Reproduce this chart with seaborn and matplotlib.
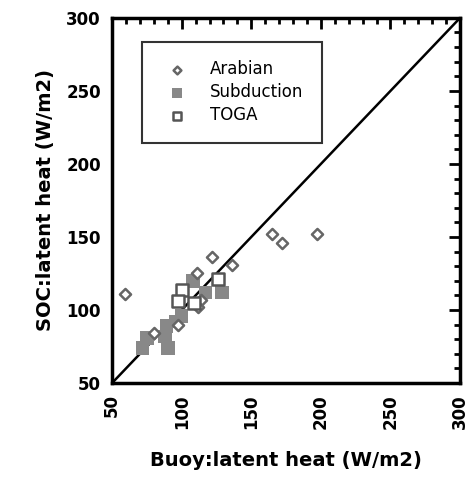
import matplotlib
matplotlib.use("Agg")
import matplotlib.pyplot as plt
from matplotlib.ticker import MultipleLocator
import pandas as pd
import seaborn as sns

# ── Data (W/m2) ──────────────────────────────────────────
arabian_buoy = [59, 165, 172, 197, 122, 136, 111, 114, 112, 80, 97]
arabian_soc = [111, 152, 146, 152, 136, 131, 125, 107, 102, 84, 90]

subduction_buoy = [108, 117, 129, 100, 96, 89, 88, 75, 72, 90]
subduction_soc = [120, 112, 112, 96, 92, 89, 82, 81, 74, 74]

toga_buoy = [100, 97, 109, 126]
toga_soc = [114, 106, 105, 121]

axis_min, axis_max = 50, 300

df = pd.concat([
    pd.DataFrame({"buoy": arabian_buoy, "soc": arabian_soc, "set": "Arabian"}),
    pd.DataFrame({"buoy": subduction_buoy, "soc": subduction_soc, "set": "Subduction"}),
    pd.DataFrame({"buoy": toga_buoy, "soc": toga_soc, "set": "TOGA"}),
])

sns.set_theme(style="white")
plt.rcParams["font.family"] = ["DejaVu Sans"]
plt.rcParams["text.color"] = "black"
plt.rcParams["axes.labelcolor"] = "black"
plt.rcParams["xtick.color"] = "black"
plt.rcParams["ytick.color"] = "black"

fig = plt.figure(figsize=(4.69, 4.83), dpi=100)
ax = fig.add_axes([0.239, 0.207, 0.742, 0.756])

# 1:1 line
ax.plot([axis_min, axis_max], [axis_min, axis_max], color="black", lw=1.8, zorder=1)

sub = df[df["set"] == "Subduction"]
sns.scatterplot(data=sub, x="buoy", y="soc", marker="s", s=95, color="#888888",
                edgecolor="none", linewidth=0, ax=ax, label="Subduction", zorder=2)
ara = df[df["set"] == "Arabian"]
sns.scatterplot(data=ara, x="buoy", y="soc", marker="D", s=32, facecolor="white",
                edgecolor="#666666", linewidth=1.8, ax=ax, label="Arabian", zorder=3)
tog = df[df["set"] == "TOGA"]
sns.scatterplot(data=tog, x="buoy", y="soc", marker="s", s=80, facecolor="white",
                edgecolor="#555555", linewidth=1.8, ax=ax, label="TOGA", zorder=3)

ax.set_xlim(axis_min, axis_max)
ax.set_ylim(axis_min, axis_max)
ax.xaxis.set_major_locator(MultipleLocator(50))
ax.yaxis.set_major_locator(MultipleLocator(50))
ax.xaxis.set_minor_locator(MultipleLocator(10))
ax.yaxis.set_minor_locator(MultipleLocator(10))
ax.tick_params(which="both", direction="in", top=True, right=True, color="black", width=2)
ax.tick_params(which="major", length=8, labelsize=12, pad=8, labelcolor="black")
ax.tick_params(which="minor", length=4)
for lab in ax.get_xticklabels():
    lab.set_rotation(90)
    lab.set_fontweight("bold")
for lab in ax.get_yticklabels():
    lab.set_fontweight("bold")
for sp in ax.spines.values():
    sp.set_color("black")
    sp.set_linewidth(2.5)

ax.set_xlabel("Buoy:latent heat (W/m2)", fontsize=14, fontweight="bold", labelpad=16,
              color="black")
ax.set_ylabel("SOC:latent heat (W/m2)", fontsize=14, fontweight="bold", labelpad=8,
              color="black")

handles, labels = ax.get_legend_handles_labels()
order = [labels.index(n) for n in ["Arabian", "Subduction", "TOGA"]]
leg = ax.legend([handles[i] for i in order], [labels[i] for i in order],
                loc="upper left", bbox_to_anchor=(0.086, 0.934), borderaxespad=0,
                fontsize=12, frameon=True, fancybox=False, edgecolor="black",
                handletextpad=1.0, borderpad=1.1, labelspacing=0.3, markerscale=0.7,
                labelcolor="black")
leg.get_frame().set_linewidth(1.5)

fig.savefig("out.png", dpi=100)
